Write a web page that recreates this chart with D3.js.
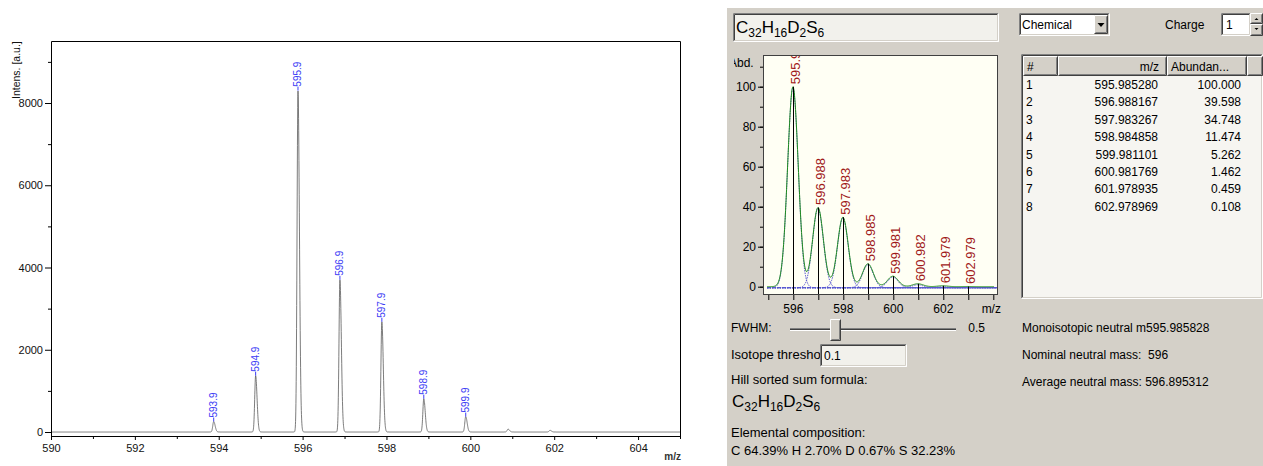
<!DOCTYPE html>
<html>
<head>
<meta charset="utf-8">
<script src="https://cdn.jsdelivr.net/npm/d3@7"></script>
<style>
  body { margin: 0; background: #fff; }
  svg { display: block; font-family: "Liberation Sans", Arial, sans-serif; }
</style>
</head>
<body>
<svg id="chart" width="1263" height="466"></svg>
<script>
// ---- measured spectrum (left) ----
const peakMz = [593.88, 594.88, 595.89, 596.89, 597.89, 598.89, 599.89, 600.90, 601.90];
const peakIntensity = [255, 1370, 8300, 3700, 2680, 810, 375, 70, 40];
const peakLabels = ["593.9", "594.9", "595.9", "596.9", "597.9", "598.9", "599.9", "", ""];
const leftXLabels = [590, 592, 594, 596, 598, 600, 602, 604];
const leftXMinor = [591, 593, 595, 597, 599, 601, 603, 605];
const leftYLabels = [0, 2000, 4000, 6000, 8000];
const leftYMinor = [1000, 3000, 5000, 7000, 9000];

// ---- simulated isotope pattern (right) ----
const isoMz = [595.985280, 596.988167, 597.983267, 598.984858, 599.981101, 600.981769, 601.978935, 602.978969];
const isoAbund = [100.000, 39.598, 34.748, 11.474, 5.262, 1.462, 0.459, 0.108];
const isoFwhm = 0.5;
const rightXLabels = [596, 598, 600, 602];
const rightXTicks = [595, 596, 597, 598, 599, 600, 601, 602, 603, 604];
const rightYLabels = [0, 20, 40, 60, 80, 100];
const rightYTicks = [0, 10, 20, 30, 40, 50, 60, 70, 80, 90, 100, 110];

const formulaParts = [["C", "32"], ["H", "16"], ["D", "2"], ["S", "6"]];
const infoLeft = ["Elemental composition:", "C 64.39% H 2.70% D 0.67% S 32.23%"];
const monoMass = "595.985828";
const nominalMass = "596";
const averageMass = "596.895312";

const svg = d3.select("#chart");
const font = "'Liberation Sans', Arial, sans-serif";

/*******************/
/* Left: spectrum  */
/*******************/
const xL = d3.scaleLinear().domain([590, 605]).range([51, 680]);
const yL = d3.scaleLinear().domain([0, 8000]).range([432, 103]);
const left = svg.append("g");

// spectrum trace, peaks slightly tailing to the right
const peakShape = (mz) => {
  let v = 0;
  peakMz.forEach((m, i) => {
    const s = mz < m ? 0.022 : 0.034;
    v += peakIntensity[i] * Math.exp(-0.5 * ((mz - m) / s) ** 2);
  });
  return v;
};
const traceMz = d3.range(590, 605.001, 0.003);
left.append("path")
  .datum(traceMz)
  .attr("fill", "none")
  .attr("stroke", "#5a5a5a")
  .attr("stroke-width", 0.8)
  .attr("d", d3.line().x(d => xL(d)).y(d => yL(peakShape(d))));

// frame
left.append("path")
  .attr("d", "M51.5,436.5V41.5H680.5V436.5H51.5")
  .attr("fill", "none").attr("stroke", "#000");

left.append("g").attr("transform", "translate(0,436)")
  .call(d3.axisBottom(xL).tickValues(leftXLabels).tickSize(4).tickPadding(4).tickSizeOuter(0).tickFormat(d3.format("d")));
left.append("g").attr("transform", "translate(0,436)")
  .call(d3.axisBottom(xL).tickValues(leftXMinor).tickSize(3).tickFormat("").tickSizeOuter(0));
left.append("g").attr("transform", "translate(51,0)")
  .call(d3.axisLeft(yL).tickValues(leftYLabels).tickSize(6).tickPadding(2).tickSizeOuter(0).tickFormat(d3.format("d")));
left.append("g").attr("transform", "translate(51,0)")
  .call(d3.axisLeft(yL).tickValues(leftYMinor).tickSize(3).tickFormat("").tickSizeOuter(0));
left.selectAll(".domain").remove();
left.selectAll(".tick line").attr("stroke", "#000");
left.selectAll(".tick text").attr("font-family", font).attr("font-size", 11).attr("fill", "#111");

left.append("text")
  .attr("transform", "translate(20,99) rotate(-90)")
  .attr("font-size", 10.5).attr("font-family", font).attr("fill", "#111")
  .text("Intens. [a.u.]");
left.append("text")
  .attr("x", 681).attr("y", 460).attr("text-anchor", "end")
  .attr("font-size", 10).attr("font-weight", "bold").attr("font-family", font).attr("fill", "#333")
  .text("m/z");

const labelled = peakMz.map((m, i) => ({ m, v: peakIntensity[i], t: peakLabels[i] })).filter(d => d.t);
left.selectAll(".peak-tick")
  .data(labelled)
  .join("line")
  .attr("class", "peak-tick")
  .attr("x1", d => xL(d.m)).attr("x2", d => xL(d.m))
  .attr("y1", d => yL(d.v)).attr("y2", d => yL(d.v) - 4)
  .attr("stroke", "#3c3cf5").attr("stroke-width", 1);
left.selectAll(".peak-label")
  .data(labelled)
  .join("text")
  .attr("class", "peak-label")
  .attr("transform", d => `translate(${xL(d.m)},${yL(d.v) - 4}) rotate(-90)`)
  .attr("dy", "0.35em")
  .attr("font-size", 10).attr("font-family", font).attr("fill", "#3c3cf5")
  .text(d => d.t);

/***************************/
/* Right: isotope panel    */
/***************************/
const panel = svg.append("g");
panel.append("rect").attr("x", 727).attr("y", 8).attr("width", 536).attr("height", 458).attr("fill", "#d4d0c8");

const bevel = (g, x, y, w, h, tl, br) => {
  g.append("path").attr("d", `M${x + 0.5},${y + h - 0.5}V${y + 0.5}H${x + w - 0.5}`)
    .attr("fill", "none").attr("stroke", tl);
  g.append("path").attr("d", `M${x + w - 0.5},${y + 0.5}V${y + h - 0.5}H${x + 0.5}`)
    .attr("fill", "none").attr("stroke", br);
};
const sunken = (g, x, y, w, h, fill) => {
  g.append("rect").attr("x", x).attr("y", y).attr("width", w).attr("height", h).attr("fill", fill);
  bevel(g, x, y, w, h, "#808080", "#ffffff");
  bevel(g, x + 1, y + 1, w - 2, h - 2, "#404040", "#d4d0c8");
};
const raised = (g, x, y, w, h) => {
  g.append("rect").attr("x", x).attr("y", y).attr("width", w).attr("height", h).attr("fill", "#d4d0c8");
  bevel(g, x, y, w, h, "#ffffff", "#404040");
  bevel(g, x + 1, y + 1, w - 2, h - 2, "#d4d0c8", "#808080");
};
const label = (g, x, y, t, opts = {}) => g.append("text")
  .attr("x", x).attr("y", y).attr("font-size", opts.size || 12).attr("font-family", font)
  .attr("fill", opts.fill || "#000").attr("text-anchor", opts.anchor || "start").text(t);
const formula = (g, x, y, size, subSize) => {
  const t = g.append("text").attr("x", x).attr("y", y).attr("font-family", font).attr("fill", "#000");
  formulaParts.forEach(([el, n], i) => {
    t.append("tspan").attr("font-size", size).attr("dy", i === 0 ? 0 : -4).text(el);
    t.append("tspan").attr("font-size", subSize).attr("dy", 4).text(n);
  });
};

// formula box
sunken(panel, 733, 13, 266, 29, "#f2f1ec");
formula(panel, 736, 33, 17, 12);

// dropdown
sunken(panel, 1019, 13, 91, 23, "#ffffff");
label(panel, 1022, 29, "Chemical");
raised(panel, 1094, 15, 14, 19);
panel.append("path").attr("d", "M1097.5,23h7l-3.5,4z").attr("fill", "#000");

label(panel, 1165, 29, "Charge");
sunken(panel, 1221, 13, 30, 23, "#ffffff");
label(panel, 1226, 29, "1");
raised(panel, 1250, 13, 13, 11);
raised(panel, 1250, 24, 13, 12);
panel.append("path").attr("d", "M1254.5,20h4l-2,-2z").attr("fill", "#000");
panel.append("path").attr("d", "M1254.5,28h4l-2,2z").attr("fill", "#000");

// isotope plot
const xR = d3.scaleLinear().domain([595, 603]).range([768.3, 968.3]);
const yR = d3.scaleLinear().domain([0, 100]).range([286.7, 86.7]);
const plot = { x: 763, y: 55, w: 235, h: 240 };
panel.append("rect").attr("x", plot.x).attr("y", plot.y).attr("width", plot.w).attr("height", plot.h)
  .attr("fill", "#fffff4");
const defs = svg.append("defs");
defs.append("clipPath").attr("id", "clipR")
  .append("rect").attr("x", plot.x).attr("y", plot.y).attr("width", plot.w).attr("height", plot.h);
const plotG = panel.append("g").attr("clip-path", "url(#clipR)");

const gauss = (mz, m, a) => a * Math.exp(-4 * Math.LN2 * ((mz - m) / isoFwhm) ** 2);
const gridMz = d3.range(594.95, 604.4, 0.02);
const lineR = d3.line().x(d => xR(d[0])).y(d => yR(d[1]));

isoMz.forEach((m, i) => {
  plotG.append("path")
    .datum(gridMz.map(x => [x, gauss(x, m, isoAbund[i])]))
    .attr("fill", "none").attr("stroke", "#5858d0").attr("stroke-width", 1)
    .attr("stroke-dasharray", "1.5,1")
    .attr("transform", "translate(0,1)")
    .attr("d", lineR);
});
plotG.append("path")
  .datum(gridMz.filter(x => x <= 604.05).map(x => [x, d3.sum(isoMz, (m, i) => gauss(x, m, isoAbund[i]))]))
  .attr("fill", "none").attr("stroke", "#1e8a1e").attr("stroke-width", 1)
  .attr("d", lineR);

plotG.selectAll(".stick")
  .data(isoMz.map((m, i) => ({ m, a: isoAbund[i] })))
  .join("line")
  .attr("class", "stick")
  .attr("x1", d => Math.round(xR(d.m)) + 0.5).attr("x2", d => Math.round(xR(d.m)) + 0.5)
  .attr("y1", plot.y + plot.h).attr("y2", d => yR(d.a))
  .attr("stroke", "#000");

plotG.selectAll(".iso-label")
  .data(isoMz.map((m, i) => ({ m, a: isoAbund[i] })))
  .join("text")
  .attr("class", "iso-label")
  .attr("transform", d => `translate(${xR(d.m)},${yR(d.a) - 2.5}) rotate(-90)`)
  .attr("dy", "0.55em")
  .attr("font-size", 13).attr("font-family", font).attr("fill", "#a01818")
  .text(d => d3.format(".3f")(d.m));

panel.append("rect").attr("x", plot.x + 0.5).attr("y", plot.y + 0.5).attr("width", plot.w - 1).attr("height", plot.h - 1)
  .attr("fill", "none").attr("stroke", "#404040");

// right axes
panel.append("g").attr("transform", `translate(0,${plot.y + plot.h})`)
  .call(d3.axisBottom(xR).tickValues(rightXTicks).tickSize(5).tickFormat(""));
panel.append("g").attr("transform", `translate(${plot.x},0)`)
  .call(d3.axisLeft(yR).tickValues(rightYTicks).tickSize(3).tickFormat(""));
panel.append("g").attr("transform", `translate(${plot.x},0)`)
  .call(d3.axisLeft(yR).tickValues(rightYLabels).tickSize(5).tickPadding(2));
panel.selectAll(".domain").remove();
panel.selectAll(".tick line").attr("stroke", "#000");
panel.selectAll(".tick text").attr("font-family", font).attr("font-size", 12).attr("fill", "#000");
rightXLabels.forEach(v => label(panel, xR(v), 313, String(v), { anchor: "middle" }));
label(panel, xR(604) - 2, 313, "m/z", { anchor: "middle" });

defs.append("clipPath").attr("id", "clipAbd")
  .append("rect").attr("x", 734).attr("y", 50).attr("width", 30).attr("height", 25);
label(panel, 729, 67, "Abd.").attr("clip-path", "url(#clipAbd)");

// FWHM slider
label(panel, 731, 332, "FWHM:");
panel.append("line").attr("x1", 790).attr("x2", 956).attr("y1", 328.5).attr("y2", 328.5).attr("stroke", "#808080");
panel.append("line").attr("x1", 790).attr("x2", 956).attr("y1", 329.5).attr("y2", 329.5).attr("stroke", "#404040");
panel.append("line").attr("x1", 790).attr("x2", 956).attr("y1", 330.5).attr("y2", 330.5).attr("stroke", "#ffffff");
raised(panel, 830, 319, 11, 22);
label(panel, 985, 332, "0.5", { anchor: "end" });

// isotope threshold (label is cut off by the input box in the dialog)
label(panel, 731, 359, "Isotope thresho", { size: 13 });
sunken(panel, 820, 344, 87, 23, "#f2f1ec");
label(panel, 824, 360, "0.1");

label(panel, 731, 384, "Hill sorted sum formula:", { size: 13 });
formula(panel, 732, 407, 17, 12);
label(panel, 731, 437, infoLeft[0], { size: 13 });
label(panel, 731, 455, infoLeft[1], { size: 13 });

// masses
const mono = label(panel, 1022, 332, "Monoisotopic neutral m");
mono.append("tspan").text(monoMass);
label(panel, 1022, 359, "Nominal neutral mass:  " + nominalMass).attr("xml:space", "preserve");
label(panel, 1022, 386, "Average neutral mass: " + averageMass);

// isotope table
sunken(panel, 1021, 54, 242, 245, "#f6f5f1");
const cols = [[1023, 35, "#", "start"], [1058, 109, "m/z", "end"], [1167, 80, "Abundan...", "start"], [1247, 16, "", "start"]];
cols.forEach(([x, w, t, a]) => {
  raised(panel, x, 56, w, 20);
  if (t) label(panel, a === "end" ? x + w - 8 : x + 4, 71, t, { anchor: a });
});
isoMz.forEach((m, i) => {
  const y = 89 + i * 17.4;
  label(panel, 1026, y, String(i + 1));
  label(panel, 1158, y, d3.format(".6f")(m), { anchor: "end" });
  label(panel, 1241, y, d3.format(".3f")(isoAbund[i]), { anchor: "end" });
});
</script>
</body>
</html>
